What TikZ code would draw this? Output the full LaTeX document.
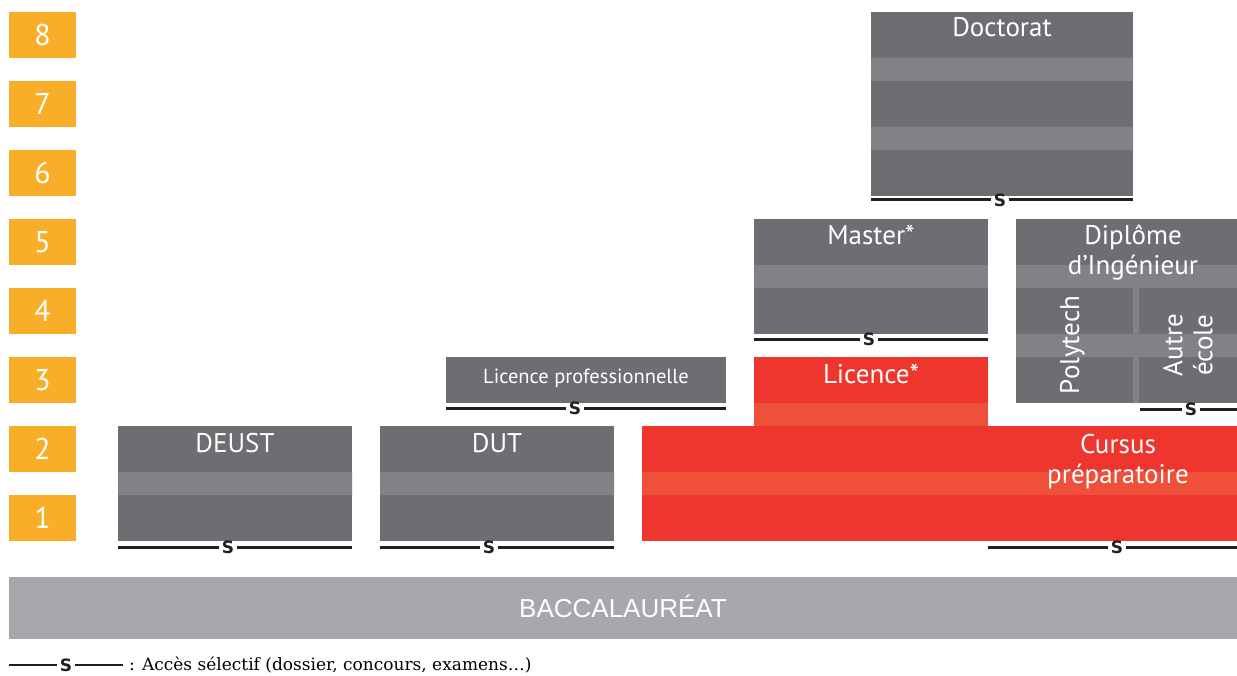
\documentclass[tikz,border=0pt]{standalone}
\usepackage{fontspec}
\setmainfont{DejaVu Serif}
\setsansfont{PT Sans}
\newfontfamily\bacfont{Liberation Sans}
\newfontfamily\selfont{DejaVu Sans}
\definecolor{niveau}{HTML}{F9AE29}
\definecolor{gris}{HTML}{6D6E72}
\definecolor{grisclair}{HTML}{818286}
\definecolor{rouge}{HTML}{EE362E}
\definecolor{rougeclair}{HTML}{EF5039}
\definecolor{bacgris}{HTML}{A7A8AC}
\definecolor{trait}{HTML}{231F20}
\tikzset{
  niv/.style={fill=niveau, text=white, font=\sffamily\fontsize{30}{32}\selectfont,
    minimum width=67pt, minimum height=46pt, inner sep=0pt},
  bloc/.style={fill=gris, inner sep=0pt},
  rbloc/.style={fill=rouge, inner sep=0pt},
  titre/.style={text=white, font=\sffamily\fontsize{27}{30}\selectfont, inner sep=0pt, align=center},
  sel/.style={text=trait, font=\selfont\bfseries\fontsize{17}{17}\selectfont, inner sep=2.5pt},
  trs/.style={draw=trait, line width=3pt},
}
\begin{document}
\begin{tikzpicture}[x=1pt,y=-1pt]
  \useasboundingbox (0,0) rectangle (1237,676);
  % niveaux
  \draw
    (42.5,35) node[niv] (n8){8}
    (42.5,104) node[niv] (n7){7}
    (42.5,173) node[niv] (n6){6}
    (42.5,242) node[niv] (n5){5}
    (42.5,311) node[niv] (n4){4}
    (42.5,380) node[niv] (n3){3}
    (42.5,449) node[niv] (n2){2}
    (42.5,518) node[niv] (n1){1};
  % blocs
  \node[bloc, minimum width=262pt, minimum height=184pt] (doctorat) at (1002,104) {};
  \fill[grisclair] (871,58) rectangle (1133,81) (871,127) rectangle (1133,150);
  \node[bloc, minimum width=234pt, minimum height=115pt] (master) at (871,276.5) {};
  \fill[grisclair] (754,265) rectangle (988,288);
  \node[bloc, minimum width=221pt, minimum height=184pt] (inge) at (1126.5,311) {};
  \fill[grisclair] (1016,265) rectangle (1237,288) (1016,334) rectangle (1237,357)
    (1133,288) rectangle (1139,403);
  \node[bloc, minimum width=280pt, minimum height=46pt] (licpro) at (586,380) {};
  \node[rbloc, minimum width=234pt, minimum height=69pt] (licence) at (871,391.5) {};
  \fill[rougeclair] (754,403) rectangle (988,426);
  \node[rbloc, minimum width=595pt, minimum height=115pt] (cursus) at (939.5,483.5) {};
  \fill[rougeclair] (642,472) rectangle (1237,495);
  \node[bloc, minimum width=234pt, minimum height=115pt] (deust) at (235,483.5) {};
  \node[bloc, minimum width=234pt, minimum height=115pt] (dut) at (497,483.5) {};
  \fill[grisclair] (118,472) rectangle (352,495) (380,472) rectangle (614,495);
  \node[fill=bacgris, minimum width=1228pt, minimum height=62pt, inner sep=0pt, text=white,
    text height=18.6pt, text depth=0pt,
    font=\bacfont\fontsize{26}{30}\selectfont] (bac) at (623,608) {BACCALAURÉAT};
  % textes
  \node[titre, anchor=base] (tdoct) at (1002,37) {Doctorat};
  \node[titre, anchor=base] (tmaster) at (871,245) {Master*};
  \node[titre, anchor=north] (tinge) at (1133,224.5) {Diplôme\\d’Ingénieur};
  \node[titre, rotate=90, anchor=base] (tpoly) at (1079,345) {Polytech};
  \node[titre, rotate=90] (tautre) at (1188,345) {Autre\\école};
  \node[titre, anchor=base, font=\sffamily\fontsize{20.5}{22}\selectfont] (tlicpro) at (586,383) {Licence professionnelle};
  \node[titre, anchor=base] (tlicence) at (871,383) {Licence*};
  \node[titre, anchor=north] (tcursus) at (1118,434) {Cursus\\préparatoire};
  \node[titre, anchor=base] (tdeust) at (235,452) {DEUST};
  \node[titre, anchor=base] (tdut) at (497,452) {DUT};
  % acces selectif
  \node[sel] (sdoct) at (1000,200) {S};
  \node[sel] (smaster) at (869,339.5) {S};
  \node[sel] (singe) at (1191,409) {S};
  \node[sel] (slicpro) at (575,408) {S};
  \node[sel] (sdeust) at (228,547) {S};
  \node[sel] (sdut) at (489,547) {S};
  \node[sel] (scursus) at (1117,547) {S};
  \coordinate (divider) at (1140,409);
  \begin{scope}[trs]
    \draw (doctorat.south west |- sdoct) -- (sdoct) -- (doctorat.south east |- sdoct);
    \draw (master.south west |- smaster) -- (smaster) -- (master.south east |- smaster);
    \draw (divider) -- (singe) -- (inge.south east |- singe);
    \draw (licpro.south west |- slicpro) -- (slicpro) -- (licpro.south east |- slicpro);
    \draw (deust.south west |- sdeust) -- (sdeust) -- (deust.south east |- sdeust);
    \draw (dut.south west |- sdut) -- (sdut) -- (dut.south east |- sdut);
    \draw (licence.south east |- scursus) -- (scursus) -- (cursus.south east |- scursus);
  \end{scope}
  % legende
  \coordinate (legg) at (9,665);
  \coordinate (legd) at (123,665);
  \node[sel] (sleg) at (66,665) {S};
  \draw[trs, line width=2pt] (legg) -- (sleg) -- (legd);
  \node[anchor=west, inner sep=0pt, font=\fontsize{17}{19}\selectfont] (legende) at (129,665)
    {: Accès sélectif (dossier, concours, examens…)};
\end{tikzpicture}
\end{document}
